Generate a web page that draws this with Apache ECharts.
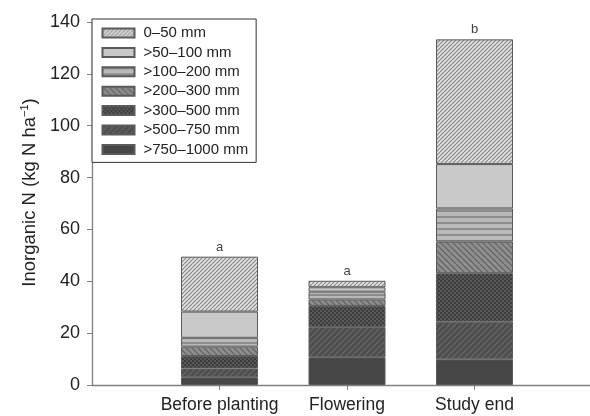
<!DOCTYPE html>
<html><head><meta charset="utf-8">
<script src="https://cdn.jsdelivr.net/npm/echarts@6/dist/echarts.min.js"></script>
<style>html,body{margin:0;padding:0;background:#fff}#c{width:590px;height:416px}</style>
</head><body><div id="c"></div>
<script>
const categories = ['Before planting', 'Flowering', 'Study end'];
const depthNames = ['>750\u20131000 mm', '>500\u2013750 mm', '>300\u2013500 mm', '>200\u2013300 mm', '>100\u2013200 mm', '>50\u2013100 mm', '0\u201350 mm'];
const d750_1000 = [3.0, 10.7, 9.9];
const d500_750 = [3.4, 11.6, 14.5];
const d300_500 = [4.8, 8.2, 18.7];
const d200_300 = [3.6, 2.5, 12.2];
const d100_200 = [3.4, 3.0, 12.8];
const d50_100 = [10.1, 1.7, 17.1];
const d0_50 = [21.2, 2.5, 48.1];
const letters = ['a', 'a', 'b'];
const yTicks = [0, 20, 40, 60, 80, 100, 120, 140];
const seriesValues = [d750_1000, d500_750, d300_500, d200_300, d100_200, d50_100, d0_50];

// padded category list: empty slot at the y axis and two past the right edge
const axisCats = [''].concat(categories, ['', '']);

function pat(kind) {
  const c = document.createElement('canvas');
  const s = 6; c.width = s; c.height = s;
  const g = c.getContext('2d');
  function diag(bg, fg, dir, lw) {
    g.fillStyle = bg; g.fillRect(0, 0, s, s);
    g.strokeStyle = fg; g.lineWidth = lw;
    g.beginPath();
    for (let k = -1; k <= 1; k++) {
      if (dir > 0) { g.moveTo(k * s, s); g.lineTo(k * s + s, 0); }
      else { g.moveTo(k * s, 0); g.lineTo(k * s + s, s); }
    }
    g.stroke();
  }
  if (kind === 0) { // 0-50
    c.width = 4; c.height = 4;
    const h = c.getContext('2d');
    h.fillStyle = '#e0e0e0'; h.fillRect(0, 0, 4, 4);
    h.strokeStyle = '#858585'; h.lineWidth = 1.1;
    h.beginPath();
    for (let k = -1; k <= 1; k++) { h.moveTo(k * 4, 4); h.lineTo(k * 4 + 4, 0); }
    h.stroke();
  } else if (kind === 1) {
    g.fillStyle = '#c9c9c9'; g.fillRect(0, 0, s, s);
  } else if (kind === 2) {
    g.fillStyle = '#b9b9b9'; g.fillRect(0, 0, s, s);
    g.fillStyle = '#8c8c8c'; g.fillRect(0, 0, s, 2);
  } else if (kind === 3) {
    diag('#8e8e8e', '#666', -1, 1.3);
  } else if (kind === 4) {
    c.width = 4; c.height = 4;
    const h = c.getContext('2d');
    h.fillStyle = '#5a5a5a'; h.fillRect(0, 0, 4, 4);
    h.fillStyle = '#3c3c3c'; h.fillRect(0, 0, 2, 2); h.fillRect(2, 2, 2, 2);
  } else if (kind === 5) {
    diag('#4e4e4e', '#6a6a6a', 1, 1.2);
  } else {
    g.fillStyle = '#464646'; g.fillRect(0, 0, s, s);
  }
  return { image: c, repeat: 'repeat' };
}

const patterns = [pat(6), pat(5), pat(4), pat(3), pat(2), pat(1), pat(0)];

const series = seriesValues.map((vals, i) => ({
  name: depthNames[i],
  type: 'bar',
  stack: 'n',
  barWidth: 77,
  data: ['-'].concat(vals, ['-', '-']),
  itemStyle: { color: patterns[i], borderColor: '#5a5a5a', borderWidth: 1 },
  label: i === seriesValues.length - 1 ? {
    show: true, position: 'top', distance: 3,
    formatter: p => letters[p.dataIndex - 1] || '',
    fontSize: 13, color: '#444', fontFamily: 'Liberation Sans'
  } : { show: false },
  emphasis: { disabled: true },
  animation: false
}));

const chart = echarts.init(document.getElementById('c'), null, { renderer: 'canvas' });
chart.setOption({
  animation: false,
  textStyle: { fontFamily: 'Liberation Sans' },
  grid: { left: 92, right: -139.5, top: 22, bottom: 31, containLabel: false, outerBoundsMode: 'none' },
  legend: {
    orient: 'vertical', left: 92, top: 19,
    data: depthNames.slice().reverse(),
    icon: 'rect',
    itemWidth: 32, itemHeight: 9, itemGap: 4.4,
    padding: [6.5, 8, 5.5, 9.5],
    borderColor: '#333', borderWidth: 1, backgroundColor: '#fff',
    textStyle: { fontSize: 15, color: '#222', fontFamily: 'Liberation Sans', padding: [0, 0, 0, 4] },
    selectedMode: false
  },
  xAxis: {
    type: 'category', data: axisCats, boundaryGap: false,
    splitLine: { show: false },
    axisLine: { show: true, lineStyle: { color: '#808080', width: 1.3 } },
    axisTick: { show: true, length: 5, interval: i => i > 0 && i <= categories.length, lineStyle: { color: '#808080' } },
    axisLabel: { interval: 0, margin: 11, fontSize: 17.5, color: '#222' }
  },
  yAxis: {
    type: 'value', min: yTicks[0], max: yTicks[yTicks.length - 1], interval: 20,
    splitLine: { show: false },
    axisLine: { show: true, lineStyle: { color: '#808080', width: 1.3 } },
    axisTick: { show: true, length: 5, lineStyle: { color: '#808080' } },
    axisLabel: { margin: 12, fontSize: 18, color: '#222' },
    name: 'Inorganic N (kg N ha{sup|\u22121})',
    nameLocation: 'middle', nameGap: 50, nameRotate: 90,
    nameTextStyle: {
      fontSize: 18.5, color: '#222', padding: [0, 0, 0, 22],
      rich: { sup: { fontSize: 11, verticalAlign: 'top', padding: [0, 0, 9, 0], color: '#222' } }
    }
  },
  series: series
});
</script></body></html>
